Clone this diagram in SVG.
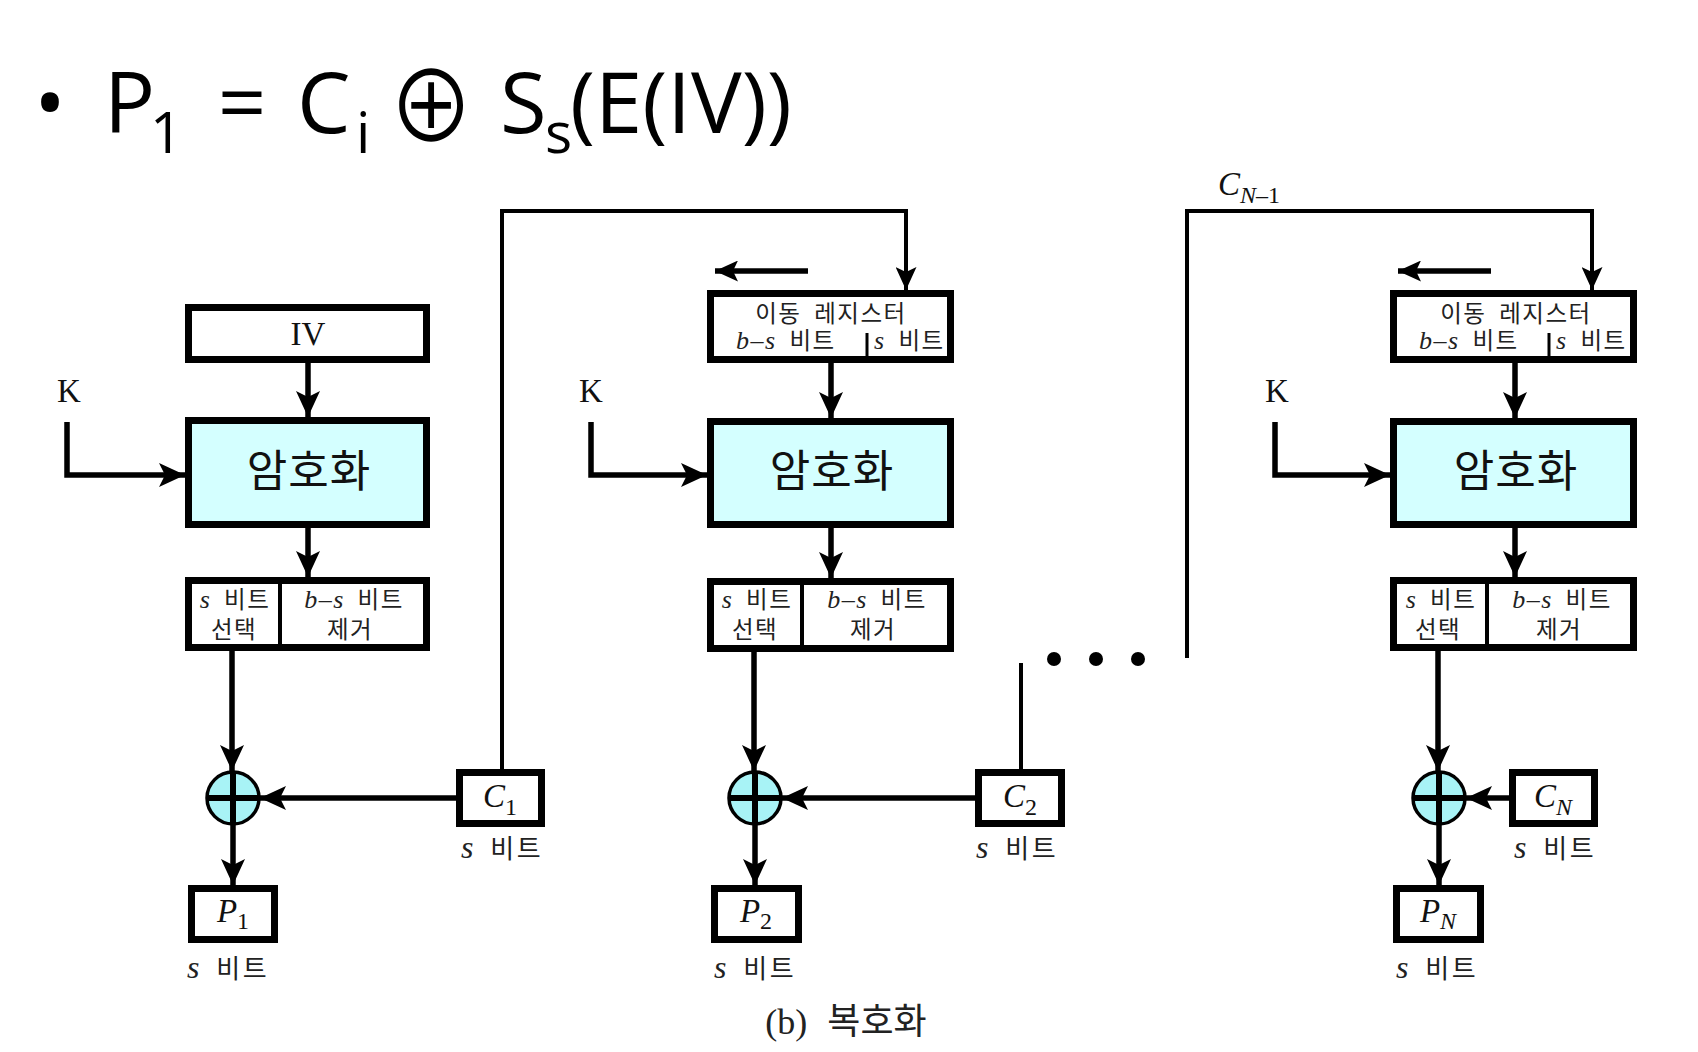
<svg xmlns="http://www.w3.org/2000/svg" width="1698" height="1052" viewBox="0 0 1698 1052">
<style>
.box{fill:#fff;stroke:#000;stroke-width:7}
.enc{fill:#d4ffff;stroke:#000;stroke-width:7}
.ln{fill:none;stroke:#000;stroke-width:5.5}
.lt{fill:none;stroke:#000;stroke-width:4}
.dv{stroke:#000;stroke-width:4}
.dvs{stroke:#000;stroke-width:3}
.xc{fill:#a8f3f6;stroke:#000;stroke-width:3.5}
.xl{stroke:#000;stroke-width:6}
.serif{font-family:"Liberation Serif",serif;fill:#111}
.ko{font-family:"Noto Sans CJK KR",sans-serif;fill:#222}
.sk{letter-spacing:1.5px;word-spacing:6px}
.sb{font-size:26px;letter-spacing:2.5px;word-spacing:6px}
.it{font-style:italic;font-family:"Liberation Serif",serif}
.t24{font-size:23.5px}
.t33{font-size:33px}
.enct{font-family:"Noto Sans CJK KR",sans-serif;font-size:44px;letter-spacing:1px;fill:#111}
.title{font-family:"Open Sans","Noto Sans",sans-serif;fill:#000}
</style>
<defs>
<marker id="ah" markerUnits="userSpaceOnUse" markerWidth="26" markerHeight="24" refX="26" refY="12" orient="auto" viewBox="0 0 26 24"><path d="M0,0 L26,12 L0,24 L6,12 Z" fill="#000"/></marker>
<marker id="ahs" markerUnits="userSpaceOnUse" markerWidth="23" markerHeight="21" refX="23" refY="10.5" orient="auto" viewBox="0 0 23 21"><path d="M0,0 L23,10.5 L0,21 L5,10.5 Z" fill="#000"/></marker>
</defs>
<rect width="1698" height="1052" fill="#fff"/>

<g id="title">
<text class="title" x="50" y="133" font-size="85" text-anchor="middle">•</text>
<text class="title" y="133" font-size="85"><tspan x="104">P</tspan><tspan x="150" y="153" font-size="57">1</tspan><tspan x="242" y="133" text-anchor="middle">=</tspan><tspan x="297" y="133">C</tspan><tspan x="356" y="153" font-size="57">i</tspan><tspan x="500" y="133">S</tspan><tspan x="545" y="153" font-size="57">s</tspan><tspan x="570" y="133">(E(IV))</tspan></text>
<text x="0" y="142" font-family="Noto Sans CJK JP,DejaVu Sans,sans-serif" font-size="98" text-anchor="middle" transform="translate(431,0) scale(0.88,1)">⊕</text>
</g>

<g id="connectors">
<path class="ln" d="M67,422 V475 H185" marker-end="url(#ah)"/>
<path class="ln" d="M308,363 V417" marker-end="url(#ah)"/>
<path class="ln" d="M308,528 V577" marker-end="url(#ah)"/>
<path class="ln" d="M232,651 V771" marker-end="url(#ah)"/>
<path class="ln" d="M233,825 V885" marker-end="url(#ah)"/>
<path class="ln" d="M456,798 H260" marker-end="url(#ah)"/>
<path class="lt" d="M502,769 V211 H906 V290" marker-end="url(#ahs)"/>
<path class="ln" d="M808,271 H715" marker-end="url(#ahs)"/>
<path class="ln" d="M831,363 V418" marker-end="url(#ah)"/>
<path class="ln" d="M591,422 V475 H707" marker-end="url(#ah)"/>
<path class="ln" d="M831,528 V578" marker-end="url(#ah)"/>
<path class="ln" d="M754,652 V771" marker-end="url(#ah)"/>
<path class="ln" d="M755,825 V885" marker-end="url(#ah)"/>
<path class="ln" d="M975,798 H782" marker-end="url(#ah)"/>
<path class="lt" d="M1021,769 V663"/>
<path class="lt" d="M1187,658 V211 H1592 V290" marker-end="url(#ahs)"/>
<path class="ln" d="M1491,271 H1398" marker-end="url(#ahs)"/>
<path class="ln" d="M1515,363 V418" marker-end="url(#ah)"/>
<path class="ln" d="M1275,422 V475 H1390" marker-end="url(#ah)"/>
<path class="ln" d="M1515,528 V577" marker-end="url(#ah)"/>
<path class="ln" d="M1438,651 V771" marker-end="url(#ah)"/>
<path class="ln" d="M1439,825 V885" marker-end="url(#ah)"/>
<path class="ln" d="M1509,798 H1466" marker-end="url(#ah)"/>
</g>

<g id="dots">
<circle cx="1054" cy="659" r="7"/>
<circle cx="1096" cy="659" r="7"/>
<circle cx="1138" cy="659" r="7"/>
</g>
<text class="serif t33" x="1218" y="195"><tspan font-style="italic">C</tspan><tspan font-size="24" dy="8"><tspan font-style="italic">N</tspan>–1</tspan></text>

<g id="iv">
<rect class="box" x="188.5" y="307.5" width="238" height="52"/>
<text class="serif t33" x="308" y="345" text-anchor="middle">IV</text>
</g>
<text class="serif t33" x="57" y="402">K</text>
<g id="enc1">
<rect class="enc" x="188.5" y="420.5" width="238" height="104"/>
<text class="enct" x="309" y="487" text-anchor="middle">암호화</text>
</g>
<g id="sel1">
<rect class="box" x="188.5" y="580.5" width="238" height="67"/>
<line class="dv" x1="280" y1="580" x2="280" y2="648"/>
<text class="ko t24 sk" x="235" y="608" text-anchor="middle"><tspan class="it" font-size="26">s</tspan> 비트</text>
<text class="ko t24 sk" x="234" y="638" text-anchor="middle">선택</text>
<text class="ko t24 sk" x="354" y="608" text-anchor="middle"><tspan class="it" font-size="26">b–s</tspan> 비트</text>
<text class="ko t24 sk" x="350" y="638" text-anchor="middle">제거</text>
</g>
<g id="xor1">
<circle class="xc" cx="233" cy="798" r="26"/>
<line class="xl" x1="207" y1="798" x2="259" y2="798"/>
<line class="xl" x1="233" y1="772" x2="233" y2="824"/>
</g>
<g id="p1">
<rect class="box" x="191.5" y="888.5" width="83" height="51"/>
<text class="serif t33" x="233" y="922" text-anchor="middle"><tspan font-style="italic">P</tspan><tspan font-size="24" dy="7">1</tspan></text>
<text class="ko sb" x="228" y="978" text-anchor="middle"><tspan class="it" font-size="32">s</tspan> 비트</text>
</g>
<g id="c1">
<rect class="box" x="459.5" y="772.5" width="82" height="51"/>
<text class="serif t33" x="500" y="807" text-anchor="middle"><tspan font-style="italic">C</tspan><tspan font-size="24" dy="8">1</tspan></text>
<text class="ko sb" x="502" y="858" text-anchor="middle"><tspan class="it" font-size="32">s</tspan> 비트</text>
</g>

<g id="reg2">
<rect class="box" x="710.5" y="293.5" width="240" height="66"/>
<line class="dvs" x1="867" y1="333" x2="867" y2="360"/>
<text class="ko t24 sk" x="831" y="322" text-anchor="middle">이동 레지스터</text>
<text class="ko t24 sk" x="736" y="349"><tspan class="it" font-size="26">b–s</tspan> 비트</text>
<text class="ko t24 sk" x="874" y="349"><tspan class="it" font-size="26">s</tspan> 비트</text>
</g>
<text class="serif t33" x="579" y="402">K</text>
<g id="enc2">
<rect class="enc" x="710.5" y="421.5" width="240" height="103"/>
<text class="enct" x="832" y="487" text-anchor="middle">암호화</text>
</g>
<g id="sel2">
<rect class="box" x="710.5" y="581.5" width="240" height="67"/>
<line class="dv" x1="802" y1="581" x2="802" y2="649"/>
<text class="ko t24 sk" x="757" y="608" text-anchor="middle"><tspan class="it" font-size="26">s</tspan> 비트</text>
<text class="ko t24 sk" x="755" y="638" text-anchor="middle">선택</text>
<text class="ko t24 sk" x="877" y="608" text-anchor="middle"><tspan class="it" font-size="26">b–s</tspan> 비트</text>
<text class="ko t24 sk" x="873" y="638" text-anchor="middle">제거</text>
</g>
<g id="xor2">
<circle class="xc" cx="755" cy="798" r="26"/>
<line class="xl" x1="729" y1="798" x2="781" y2="798"/>
<line class="xl" x1="755" y1="772" x2="755" y2="824"/>
</g>
<g id="p2">
<rect class="box" x="714.5" y="888.5" width="84" height="51"/>
<text class="serif t33" x="756" y="922" text-anchor="middle"><tspan font-style="italic">P</tspan><tspan font-size="24" dy="7">2</tspan></text>
<text class="ko sb" x="755" y="978" text-anchor="middle"><tspan class="it" font-size="32">s</tspan> 비트</text>
</g>
<g id="c2">
<rect class="box" x="978.5" y="772.5" width="83" height="51"/>
<text class="serif t33" x="1020" y="807" text-anchor="middle"><tspan font-style="italic">C</tspan><tspan font-size="24" dy="8">2</tspan></text>
<text class="ko sb" x="1017" y="858" text-anchor="middle"><tspan class="it" font-size="32">s</tspan> 비트</text>
</g>

<g id="regN">
<rect class="box" x="1393.5" y="293.5" width="240" height="66"/>
<line class="dvs" x1="1549" y1="333" x2="1549" y2="360"/>
<text class="ko t24 sk" x="1516" y="322" text-anchor="middle">이동 레지스터</text>
<text class="ko t24 sk" x="1419" y="349"><tspan class="it" font-size="26">b–s</tspan> 비트</text>
<text class="ko t24 sk" x="1556" y="349"><tspan class="it" font-size="26">s</tspan> 비트</text>
</g>
<text class="serif t33" x="1265" y="402">K</text>
<g id="encN">
<rect class="enc" x="1393.5" y="421.5" width="240" height="103"/>
<text class="enct" x="1516" y="487" text-anchor="middle">암호화</text>
</g>
<g id="selN">
<rect class="box" x="1393.5" y="580.5" width="240" height="67"/>
<line class="dv" x1="1487" y1="580" x2="1487" y2="648"/>
<text class="ko t24 sk" x="1441" y="608" text-anchor="middle"><tspan class="it" font-size="26">s</tspan> 비트</text>
<text class="ko t24 sk" x="1438" y="638" text-anchor="middle">선택</text>
<text class="ko t24 sk" x="1562" y="608" text-anchor="middle"><tspan class="it" font-size="26">b–s</tspan> 비트</text>
<text class="ko t24 sk" x="1559" y="638" text-anchor="middle">제거</text>
</g>
<g id="xorN">
<circle class="xc" cx="1439" cy="798" r="26"/>
<line class="xl" x1="1413" y1="798" x2="1465" y2="798"/>
<line class="xl" x1="1439" y1="772" x2="1439" y2="824"/>
</g>
<g id="pN">
<rect class="box" x="1396.5" y="888.5" width="84" height="51"/>
<text class="serif t33" x="1438" y="922" text-anchor="middle"><tspan font-style="italic">P</tspan><tspan font-size="24" dy="7" font-style="italic">N</tspan></text>
<text class="ko sb" x="1437" y="978" text-anchor="middle"><tspan class="it" font-size="32">s</tspan> 비트</text>
</g>
<g id="cN">
<rect class="box" x="1512.5" y="772.5" width="82" height="51"/>
<text class="serif t33" x="1553" y="807" text-anchor="middle"><tspan font-style="italic">C</tspan><tspan font-size="24" dy="8" font-style="italic">N</tspan></text>
<text class="ko sb" x="1555" y="858" text-anchor="middle"><tspan class="it" font-size="32">s</tspan> 비트</text>
</g>

<text class="ko" font-size="36" x="846" y="1034" text-anchor="middle" word-spacing="12"><tspan font-family="Liberation Serif,serif" font-size="36">(b)</tspan> 복호화</text>
</svg>
